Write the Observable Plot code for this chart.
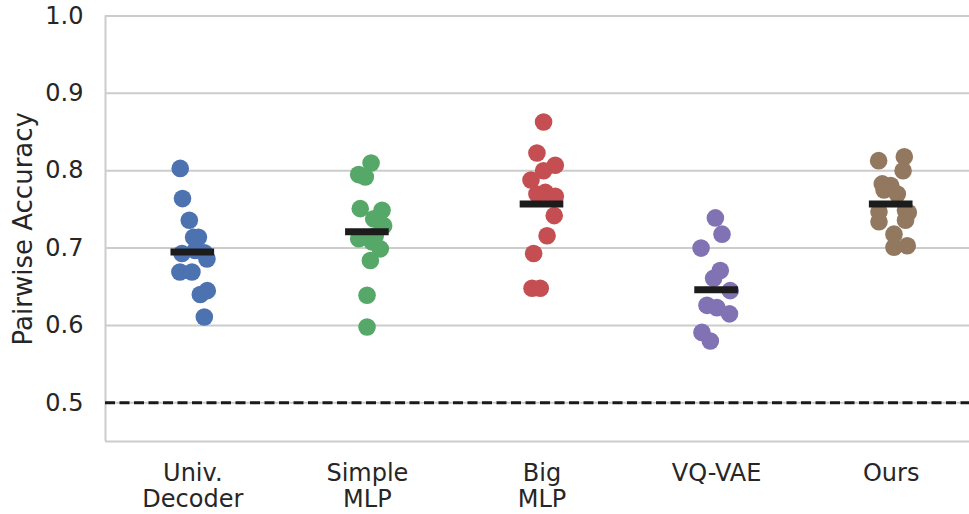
<!DOCTYPE html>
<html>
<head>
<meta charset="utf-8">
<script src="https://cdn.jsdelivr.net/npm/d3@7"></script>
<script src="https://cdn.jsdelivr.net/npm/@observablehq/plot@0.6"></script>
<style>
  html, body { margin: 0; padding: 0; background: #ffffff; overflow: hidden; }
  #chart { width: 969px; height: 514px; }
</style>
</head>
<body>
<div id="chart"></div>
<script>
// ---- Data ----
const modelLabels = ["Univ.\nDecoder", "Simple\nMLP", "Big\nMLP", "VQ-VAE", "Ours"];
const modelColors = ["#4C72B0", "#55A868", "#C44E52", "#8172B3", "#937860"];

// accuracies per run, and the horizontal strip jitter (in category units)
const univDecoderAcc    = [0.803, 0.764, 0.736, 0.714, 0.714, 0.697, 0.694, 0.693, 0.686, 0.669, 0.669, 0.645, 0.640, 0.611];
const univDecoderJitter = [-0.072, -0.059, -0.020, 0.005, 0.032, 0.014, 0.066, -0.062, 0.081, -0.074, -0.005, 0.083, 0.043, 0.066];

const simpleMlpAcc    = [0.810, 0.795, 0.792, 0.751, 0.749, 0.738, 0.729, 0.716, 0.712, 0.708, 0.699, 0.684, 0.639, 0.598];
const simpleMlpJitter = [0.021, -0.050, -0.012, -0.041, 0.084, 0.036, 0.093, 0.045, -0.050, 0.026, 0.074, 0.017, -0.002, -0.002];

const bigMlpAcc    = [0.863, 0.823, 0.807, 0.800, 0.788, 0.772, 0.770, 0.767, 0.742, 0.716, 0.693, 0.648, 0.648];
const bigMlpJitter = [0.009, -0.029, 0.076, 0.009, -0.063, 0.019, -0.029, 0.076, 0.070, 0.029, -0.048, -0.057, -0.010];

const vqVaeAcc    = [0.739, 0.718, 0.700, 0.671, 0.661, 0.645, 0.626, 0.623, 0.615, 0.591, 0.580];
const vqVaeJitter = [-0.007, 0.031, -0.089, 0.021, -0.017, 0.078, -0.055, 0.002, 0.074, -0.084, -0.036];

const oursAcc    = [0.813, 0.818, 0.800, 0.783, 0.781, 0.775, 0.770, 0.747, 0.749, 0.746, 0.736, 0.734, 0.718, 0.701, 0.703];
const oursJitter = [-0.072, 0.075, 0.068, -0.051, -0.003, -0.041, 0.035, -0.070, 0.082, 0.098, 0.082, -0.070, 0.016, 0.016, 0.092];

const meanAcc = [0.695, 0.721, 0.757, 0.646, 0.757];
const chanceLevel = 0.5;
const yTicks = [0.5, 0.6, 0.7, 0.8, 0.9, 1.0];
const yLabel = "Pairwise Accuracy";

// ---- Build tables ----
const groups = [
  [univDecoderAcc, univDecoderJitter],
  [simpleMlpAcc, simpleMlpJitter],
  [bigMlpAcc, bigMlpJitter],
  [vqVaeAcc, vqVaeJitter],
  [oursAcc, oursJitter]
];
const points = [];
groups.forEach(([acc, jit], i) => acc.forEach((v, j) => points.push({model: i, pos: i + jit[j], acc: v})));
const means = meanAcc.map((m, i) => ({model: i, mean: m}));

const chart = Plot.plot({
  width: 969,
  height: 514,
  marginLeft: 105,
  marginRight: 0,
  marginTop: 15.5,
  marginBottom: 73,
  style: {fontFamily: "'DejaVu Sans', sans-serif", color: "#262626", background: "#ffffff", overflow: "hidden"},
  x: {domain: [-0.5, 4.5], range: [105, 978]},
  y: {domain: [0.45, 1.0]},
  marks: [
    Plot.gridY(yTicks, {stroke: "#cccccc", strokeOpacity: 1, strokeWidth: 2}),
    Plot.ruleX([-0.5], {stroke: "#cccccc", strokeWidth: 2}),
    Plot.ruleY([0.45], {stroke: "#cccccc", strokeWidth: 2}),
    Plot.ruleY([chanceLevel], {stroke: "#1a1a1a", strokeWidth: 3, strokeDasharray: "10,4.5"}),
    Plot.dot(points, {x: "pos", y: "acc", r: 8.8, fill: d => modelColors[d.model], stroke: null}),
    Plot.ruleY(means, {y: "mean", x1: d => d.model - 0.125, x2: d => d.model + 0.125, stroke: "#1c1c1c", strokeWidth: 7}),
    Plot.axisY(yTicks, {tickSize: 0, tickPadding: 22, tickFormat: d3.format(".1f"), label: null, fontSize: 24}),
    Plot.axisX([0, 1, 2, 3, 4], {tickSize: 0, tickPadding: 20, tickFormat: i => modelLabels[i], label: null, fontSize: 24, lineHeight: 1.12}),
    Plot.text([yLabel], {frameAnchor: "left", rotate: -90, dx: -82, fontSize: 26, fill: "#262626", textAnchor: "middle", lineAnchor: "middle"})
  ]
});
document.getElementById("chart").appendChild(chart);
</script>
</body>
</html>
